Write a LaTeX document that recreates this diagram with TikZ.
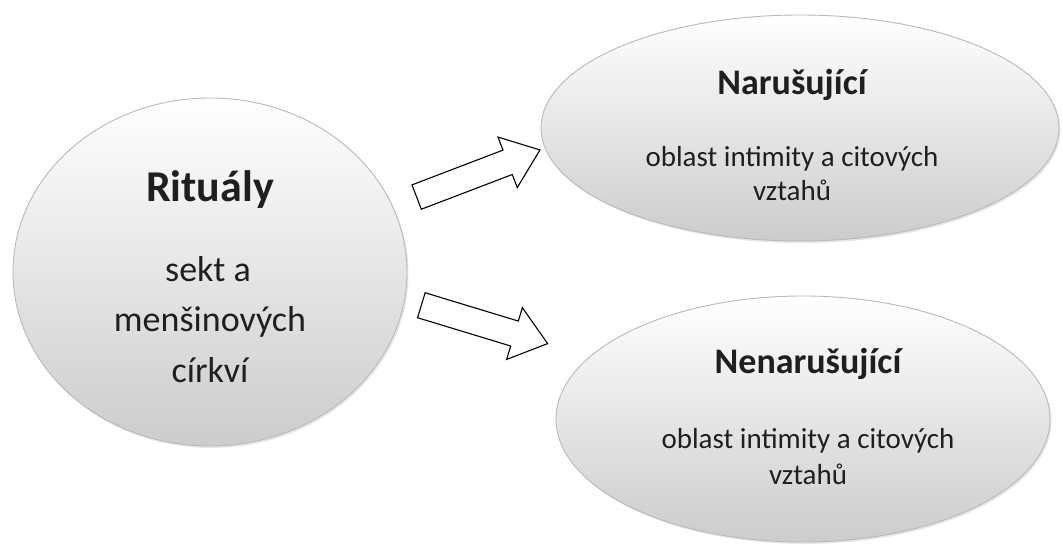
\documentclass[tikz,border=0pt]{standalone}
\usepackage{fontspec}
\setmainfont{Carlito}
\usetikzlibrary{shapes.geometric,shapes.arrows,shadows}
\begin{document}
\begin{tikzpicture}[x=1pt,y=-1pt,
  bubble/.style={ellipse, draw=gray!55, line width=0.9pt, top color=white, bottom color=gray!40, inner sep=0pt,
    drop shadow={opacity=0.2, shadow xshift=1.5pt, shadow yshift=-2pt}},
  blockarrow/.style={single arrow, draw=black, line width=1.1pt, fill=white, inner xsep=0pt, inner ysep=12.5pt,
    minimum width=0pt, minimum height=132pt, single arrow head extend=14pt, single arrow tip angle=76},
  txt/.style={anchor=base, inner sep=0pt, text=black!88}
]
\useasboundingbox (0,0) rectangle (1063,545);
% main shapes
\node[bubble, minimum width=394pt, minimum height=348pt] (rit) at (210,272) {};
\node[bubble, minimum width=518pt, minimum height=226pt] (nar) at (800,128) {};
\node[bubble, minimum width=494pt, minimum height=246pt] (nen) at (803,419) {};
% arrows
\node[blockarrow, rotate=20.9] (a1) at (470.5,176.5) {};
\node[blockarrow, rotate=-16.9] (a2) at (476.5,322) {};
% texts
\node[txt, font=\fontsize{44}{53}\selectfont\bfseries] (t1) at (210,202) {Rituály};
\node[txt, font=\fontsize{36}{50}\selectfont] (t2) at (208,282) {sekt a};
\node[txt, font=\fontsize{36}{50}\selectfont] (t3) at (210,332) {menšinových};
\node[txt, font=\fontsize{36}{50}\selectfont] (t4) at (210,382) {církví};
\node[txt, font=\fontsize{36}{44}\selectfont\bfseries] (n1) at (792,95) {Narušující};
\node[txt, font=\fontsize{29}{35}\selectfont] (n2) at (792,167) {oblast intimity a citových};
\node[txt, font=\fontsize{29}{35}\selectfont] (n3) at (792,201) {vztahů};
\node[txt, font=\fontsize{36}{44}\selectfont\bfseries] (m1) at (808,373) {Nenarušující};
\node[txt, font=\fontsize{29}{35}\selectfont] (m2) at (808,448) {oblast intimity a citových};
\node[txt, font=\fontsize{29}{35}\selectfont] (m3) at (808,484) {vztahů};
\end{tikzpicture}
\end{document}
